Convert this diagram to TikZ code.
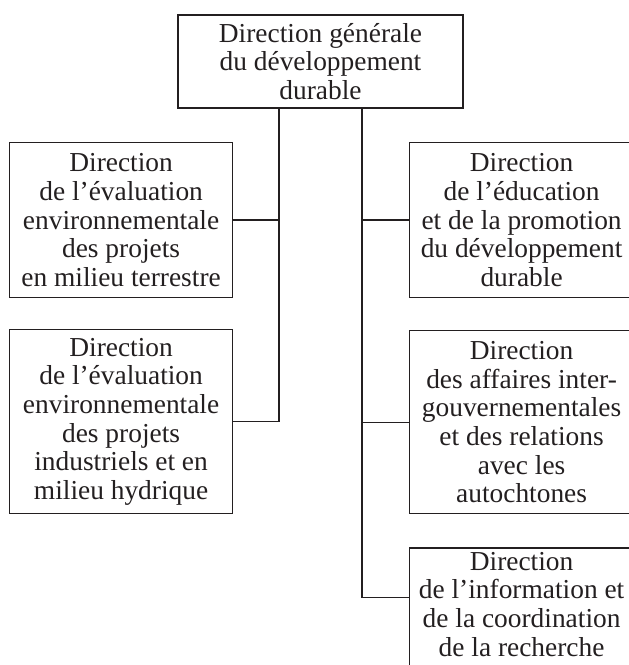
\documentclass[tikz,border=0pt]{standalone}
\usepackage{fontspec}
\setmainfont{Liberation Serif}
\usepackage{tikz}
\usetikzlibrary{positioning, calc}
\definecolor{ink}{RGB}{35, 31, 32}

\begin{document}
\begin{tikzpicture}[x=1pt, y=-1pt, font=\fontsize{27.4}{28.7}\selectfont,
  unite/.style={draw=ink, text=ink, line width=1.2pt, align=center, inner sep=4pt},
  chef/.style={unite, line width=2.6pt, minimum width=285pt, minimum height=93pt},
  gauche/.style={unite, minimum width=223pt},
  droite/.style={unite, minimum width=224pt},
  lien/.style={draw=ink, line width=1.3pt}]
  \useasboundingbox (0,0) rectangle (629,665);
  \clip (0,0) rectangle (629,665);
  \node[chef] (dgdd) at (320.5,61.5) {Direction générale\\du développement\\durable};
  % colonne de gauche
  \node[gauche, minimum height=155pt, anchor=north west] (evalterr) at (9,142)
    {Direction\\de l’évaluation\\environnementale\\des projets\\en milieu terrestre};
  \node[gauche, minimum height=184pt, below=31pt of evalterr] (evalind)
    {Direction\\de l’évaluation\\environnementale\\des projets\\industriels et en\\milieu hydrique};
  % colonne de droite
  \node[droite, minimum height=155pt, anchor=north west] (educ) at (409,142)
    {Direction\\de l’éducation\\et de la promotion\\du développement\\durable};
  \node[droite, minimum height=183pt, below=32pt of educ] (affaires)
    {Direction\\des affaires inter-\\gouvernementales\\et des relations\\avec les\\autochtones};
  \node[droite, text depth=110pt, below=33pt of affaires] (info)
    {Direction\\de l’information et\\de la coordination\\de la recherche};
  \coordinate (brG) at ($(dgdd.south)+(-41.5,0)$);
  \coordinate (brD) at ($(dgdd.south)+(41.5,0)$);
  \draw[lien] (brG) |- (evalterr.east);
  \draw[lien] (brG) |- (evalind.east);
  \draw[lien] (brD) |- (educ.west);
  \draw[lien] (brD) |- (affaires.west);
  \draw[lien] (brD) |- ($(info.north west)+(0,50)$);
\end{tikzpicture}
\end{document}
